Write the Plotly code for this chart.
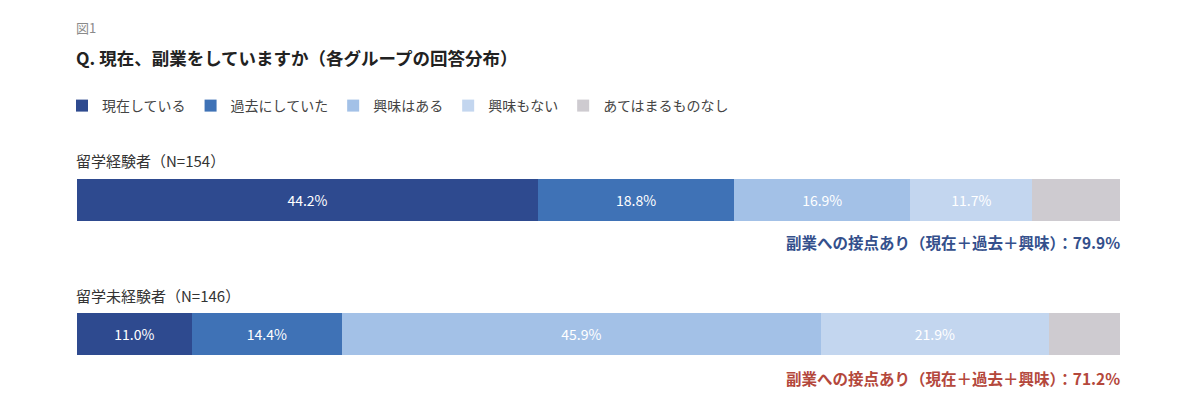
import plotly.graph_objects as go

# Data
groups = ["留学経験者", "留学未経験者"]
group_labels = ["留学経験者（N=154）", "留学未経験者（N=146）"]
categories = ["現在している", "過去にしていた", "興味はある", "興味もない", "あてはまるものなし"]
current = [44.2, 11.0]
past = [18.8, 14.4]
interested = [16.9, 45.9]
not_interested = [11.7, 21.9]
none_apply = [8.4, 6.8]
contact_totals = ["79.9%", "71.2%"]

series = [current, past, interested, not_interested, none_apply]
colors = ["#2e4a8f", "#3f72b6", "#a3c1e7", "#c3d6ef", "#cecbd0"]
summary_colors = ["#34508c", "#b4483c"]

FONT = "Noto Sans CJK JP"

fig = go.Figure()

for name, vals, color in zip(categories, series, colors):
    show_text = name != "あてはまるものなし"
    fig.add_trace(
        go.Bar(
            y=groups,
            x=vals,
            name=name,
            orientation="h",
            marker=dict(color=color, line=dict(width=0)),
            text=[f"{v:.1f}%" for v in vals] if show_text else None,
            textposition="inside",
            insidetextanchor="middle",
            textfont=dict(color="white", size=14, family=FONT),
            hoverinfo="name+x",
        )
    )

# page has an 8px body margin; plot area spans 133..401 px on screen
def py(pix):
    return (401 - pix) / 268

x0 = -0.003  # annotations have a small inner padding

annotations = [
    dict(text="図1", x=x0, y=py(27), xanchor="left", yanchor="middle",
         font=dict(size=13, color="#8a8a8a", family=FONT), showarrow=False),
    dict(text="<b>Q. 現在、副業をしていますか（各グループの回答分布）</b>", x=x0, y=py(58),
         xanchor="left", yanchor="middle",
         font=dict(size=17.5, color="#222222", family=FONT), showarrow=False),
]

label_y = [160, 295]
summary_y = [242, 378]
for i, lbl in enumerate(group_labels):
    annotations.append(
        dict(text=lbl, x=x0, y=py(label_y[i]), xanchor="left", yanchor="middle",
             font=dict(size=15, color="#333333", family=FONT), showarrow=False)
    )
    annotations.append(
        dict(text=f"<b>副業への接点あり（現在＋過去＋興味）：{contact_totals[i]}</b>",
             x=1.002, y=py(summary_y[i]), xanchor="right", yanchor="middle",
             font=dict(size=15.5, color=summary_colors[i], family=FONT), showarrow=False)
    )

for a in annotations:
    a["xref"] = "paper"
    a["yref"] = "paper"

fig.update_layout(
    width=1200,
    height=408,
    barmode="stack",
    bargap=0.687,
    plot_bgcolor="white",
    paper_bgcolor="white",
    margin=dict(l=69, r=88, t=125, b=15),
    font=dict(family=FONT, color="#333333"),
    showlegend=True,
    legend=dict(
        orientation="h",
        x=-0.0144,
        xanchor="left",
        y=py(106),
        yanchor="middle",
        font=dict(size=14, color="#444444", family=FONT),
        traceorder="normal",
        itemwidth=30,
    ),
    annotations=annotations,
    uniformtext=dict(minsize=8, mode="show"),
)

fig.update_xaxes(range=[0, 100], visible=False, fixedrange=True)
fig.update_yaxes(autorange="reversed", visible=False, fixedrange=True)

fig.write_html("out.html")
